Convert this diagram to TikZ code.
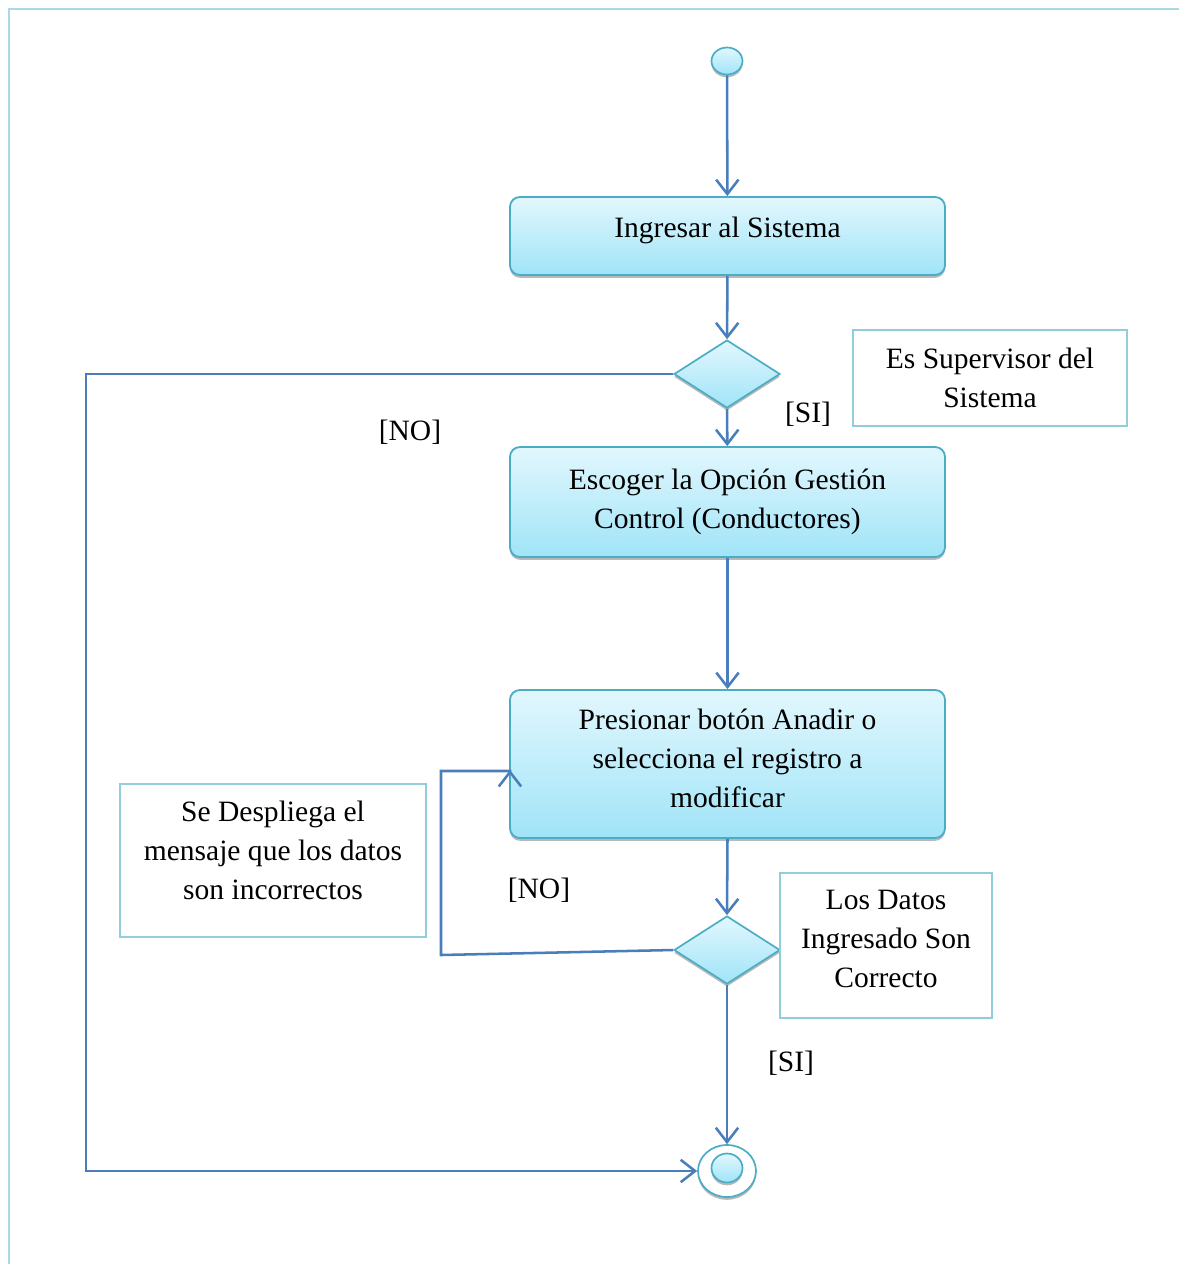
\documentclass[tikz,border=0pt]{standalone}
\usepackage{fontspec}
\setmainfont{Liberation Serif}
\usetikzlibrary{shapes.geometric,arrows.meta,shadows}
\definecolor{flujo}{RGB}{74,126,187}
\definecolor{borde}{RGB}{75,172,198}
\definecolor{nota}{RGB}{146,205,220}
\definecolor{marco}{RGB}{170,216,228}
\definecolor{claro}{RGB}{226,247,253}
\definecolor{oscuro}{RGB}{160,228,248}
\tikzset{
  sombra/.style={general shadow={shadow yshift=-0.07cm, fill=gray!55}},
  actividad/.style={draw=borde, line width=1.3pt, rounded corners=0.25cm, top color=claro, bottom color=oscuro, align=center, minimum width=10.875cm, sombra},
  decision/.style={diamond, draw=borde, line width=1.2pt, top color=claro, bottom color=oscuro, minimum width=2.65cm, minimum height=1.7cm, inner sep=0pt, sombra},
  nota/.style={draw=nota, line width=0.8pt, fill=white, align=center},
  flujo/.style={draw=flujo, line width=1.8pt, -{Straight Barb[length=0.36cm, width=0.56cm]}},
}
\begin{document}
\begin{tikzpicture}[x=0.025cm, y=-0.025cm, font=\fontsize{21}{27.7}\selectfont]
\useasboundingbox (0,0) rectangle (1179,1264);
\draw[marco, line width=2pt] (9,1264) -- (9,9) -- (1179,9);

\node[ellipse, draw=borde, line width=1.2pt, top color=claro, bottom color=oscuro, minimum width=0.775cm, minimum height=0.675cm, inner sep=0pt, sombra] (inicio) at (727,61) {};
\node[actividad, minimum height=1.95cm, text depth=0.42cm] (ingresar) at (727.5,236) {Ingresar al Sistema};
\node[decision] (supervisor) at (727,374) {};
\node[actividad, minimum height=2.75cm] (escoger) at (727.5,502) {Escoger la Opción Gestión\\Control (Conductores)};
\node[actividad, minimum height=3.7cm, text depth=0.27cm] (presionar) at (727.5,764) {Presionar botón Anadir o\\selecciona el registro a\\modificar};
\node[decision] (datos) at (727,950) {};
\node[ellipse, draw=borde, line width=1.2pt, fill=white, minimum width=1.45cm, minimum height=1.3cm, inner sep=0pt, sombra] (fin) at (727,1171) {};
\node[ellipse, draw=borde, line width=1.2pt, top color=claro, bottom color=oscuro, minimum width=0.775cm, minimum height=0.725cm, inner sep=0pt, sombra] (finin) at (727,1168) {};

\node[nota, minimum width=6.85cm, minimum height=2.4cm] (notasup) at (990,378) {Es Supervisor del\\Sistema};
\node[nota, minimum width=5.3cm, minimum height=3.625cm, text depth=0.33cm] (notadatos) at (886,945.5) {Los Datos\\Ingresado Son\\Correcto};
\node[nota, minimum width=7.65cm, minimum height=3.825cm, text depth=0.5cm] (notaerror) at (273,860.5) {Se Despliega el\\mensaje que los datos\\son incorrectos};

\node (si1) at (808,414) {[SI]};
\node (no1) at (410,432) {[NO]};
\node (no2) at (539,890) {[NO]};
\node (si2) at (791,1063) {[SI]};

\coordinate (regreso) at (510,771);

\draw[flujo] (inicio) -- (ingresar);
\draw[flujo] (ingresar) -- (supervisor);
\draw[flujo] (supervisor) -- (escoger);
\draw[flujo] (escoger) -- (presionar);
\draw[flujo] (presionar.south) -- (datos.north);
\draw[flujo] (datos) -- (fin);
\draw[flujo] (supervisor.west) -- (86,374) -- (86,1171) -- (fin.west);
\draw[flujo] (datos.west) -- (441,955) -- (441,771) -- (regreso) -- ++(0,-1);
\end{tikzpicture}
\end{document}
